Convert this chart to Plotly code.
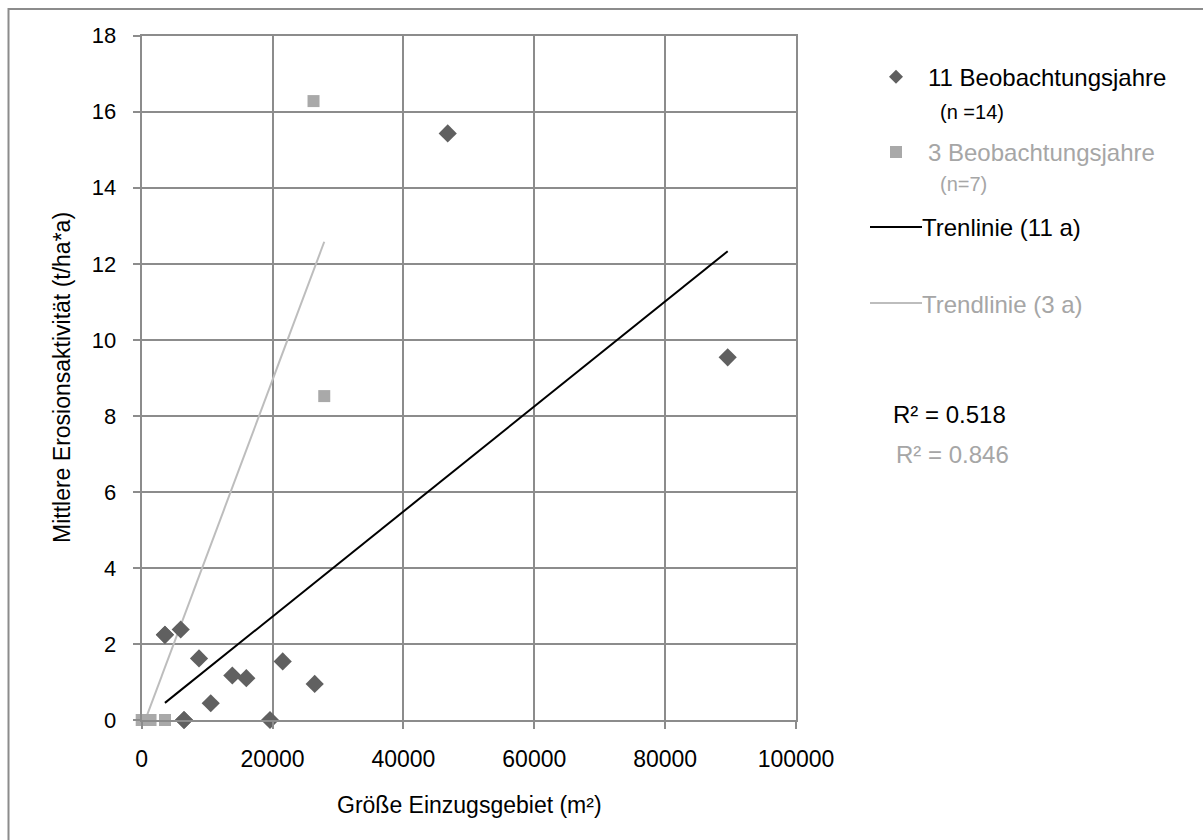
import plotly.graph_objects as go

# ---------------- data ----------------
area_11 = [3550, 5960, 8760, 10550, 13850, 15990, 21550, 26440, 6470, 19610, 46770, 89560, 3550, 6470]
erosion_11 = [2.24, 2.38, 1.62, 0.44, 1.17, 1.10, 1.54, 0.95, 0.0, 0.0, 15.43, 9.54, 2.24, 0.0]

area_3 = [0, 300, 700, 1350, 3560, 26260, 27900]
erosion_3 = [0.0, 0.0, 0.0, 0.0, 0.0, 16.28, 8.52]

trend_11_x = [3550, 89560]
trend_11_y = [0.45, 12.33]
trend_3_x = [0, 27900]
trend_3_y = [-0.25, 12.58]

x_ticks = [0, 20000, 40000, 60000, 80000, 100000]
y_ticks = [0, 2, 4, 6, 8, 10, 12, 14, 16, 18]

legend_labels = ["11 Beobachtungsjahre", "(n =14)", "3 Beobachtungsjahre", "(n=7)",
                 "Trenlinie (11 a)", "Trendlinie (3 a)"]
r2_labels = ["R² = 0.518", "R² = 0.846"]

# ---------------- style ----------------
W, H = 1203, 840
FONT = "Liberation Sans, Arial, sans-serif"
GRID = "#8c8c8c"
DARK = "#606060"
LIGHT = "#a9a9a9"
LIGHT_TXT = "#a6a6a6"


def px(x):
    return x / W


def py(y):
    return 1 - y / H


fig = go.Figure()

fig.add_trace(go.Scatter(x=trend_3_x, y=trend_3_y, mode="lines",
                         line=dict(color="#bdbdbd", width=2), showlegend=False))
fig.add_trace(go.Scatter(x=trend_11_x, y=trend_11_y, mode="lines",
                         line=dict(color="black", width=2), showlegend=False))
fig.add_trace(go.Scatter(x=area_11, y=erosion_11, mode="markers",
                         marker=dict(symbol="diamond", size=14, color=DARK),
                         cliponaxis=False, showlegend=False))
fig.add_trace(go.Scatter(x=area_3, y=erosion_3, mode="markers",
                         marker=dict(symbol="square", size=12, color=LIGHT),
                         cliponaxis=False, showlegend=False))

axis_common = dict(showline=True, mirror=True, linecolor=GRID, linewidth=2,
                   showgrid=True, gridcolor=GRID, gridwidth=2,
                   ticks="outside", ticklen=7, tickcolor=GRID, tickwidth=2,
                   zeroline=False, automargin=False)

fig.update_xaxes(range=[0, 100000], tickvals=x_ticks, tickformat="d",
                 domain=[px(141.7), px(796)],
                 tickfont=dict(family=FONT, size=23, color="black"),
                 ticklabelstandoff=10, **axis_common)
fig.update_yaxes(range=[0, 18], tickvals=y_ticks,
                 domain=[py(720), py(35.7)],
                 tickfont=dict(family=FONT, size=22, color="black"),
                 ticklabelstandoff=12, **axis_common)

annotations = [
    dict(x=px(469), y=py(805), text="Größe Einzugsgebiet (m²)", font=dict(size=23)),
    dict(x=px(62), y=py(378), text="Mittlere Erosionsaktivität (t/ha*a)", textangle=-90,
         font=dict(size=23)),
    dict(x=px(926), y=py(77), text=legend_labels[0], xanchor="left", font=dict(size=24)),
    dict(x=px(938), y=py(112), text=legend_labels[1], xanchor="left", font=dict(size=20)),
    dict(x=px(926), y=py(152), text=legend_labels[2], xanchor="left",
         font=dict(size=24, color=LIGHT_TXT)),
    dict(x=px(938), y=py(184), text=legend_labels[3], xanchor="left",
         font=dict(size=20, color=LIGHT_TXT)),
    dict(x=px(920), y=py(228), text=legend_labels[4], xanchor="left", font=dict(size=24)),
    dict(x=px(920), y=py(304), text=legend_labels[5], xanchor="left",
         font=dict(size=24, color=LIGHT_TXT)),
    dict(x=px(891), y=py(414), text=r2_labels[0], xanchor="left", font=dict(size=24)),
    dict(x=px(894), y=py(455), text=r2_labels[1], xanchor="left",
         font=dict(size=24, color=LIGHT_TXT)),
]
for a in annotations:
    a.setdefault("xanchor", "center")
    a.update(xref="paper", yref="paper", showarrow=False, yanchor="middle")
    a["font"] = dict(family=FONT, color=a["font"].get("color", "black"), size=a["font"]["size"])

# legend symbols (shapes) and outer frame
d = 7
shapes = [
    dict(type="rect", xref="paper", yref="paper", x0=px(8.5), y0=py(900), x1=px(1300), y1=py(9),
         line=dict(color=GRID, width=2), fillcolor="rgba(0,0,0,0)", layer="below"),
    dict(type="path", xref="paper", yref="paper",
         path=f"M {px(896)} {py(76.7 - d)} L {px(896 + d)} {py(76.7)} L {px(896)} {py(76.7 + d)} "
              f"L {px(896 - d)} {py(76.7)} Z",
         fillcolor=DARK, line=dict(width=0)),
    dict(type="rect", xref="paper", yref="paper", x0=px(890), x1=px(902), y0=py(158), y1=py(146),
         fillcolor=LIGHT, line=dict(width=0)),
    dict(type="line", xref="paper", yref="paper", x0=px(870), x1=px(922), y0=py(227), y1=py(227),
         line=dict(color="black", width=2)),
    dict(type="line", xref="paper", yref="paper", x0=px(870), x1=px(922), y0=py(303), y1=py(303),
         line=dict(color="#bdbdbd", width=2)),
]

fig.update_layout(width=W, height=H, margin=dict(l=0, r=0, t=0, b=0, pad=0, autoexpand=False),
                  paper_bgcolor="white", plot_bgcolor="white",
                  font=dict(family=FONT, color="black"),
                  annotations=annotations, shapes=shapes, showlegend=False)

fig.write_html("out.html", config={"displayModeBar": False})

# remove the default page margin so the figure sits at the window origin
with open("out.html", "r", encoding="utf-8") as f:
    html = f.read()
html = html.replace("<head>", '<head><style>html,body{margin:0;padding:0;overflow:hidden;}</style>', 1)
with open("out.html", "w", encoding="utf-8") as f:
    f.write(html)
